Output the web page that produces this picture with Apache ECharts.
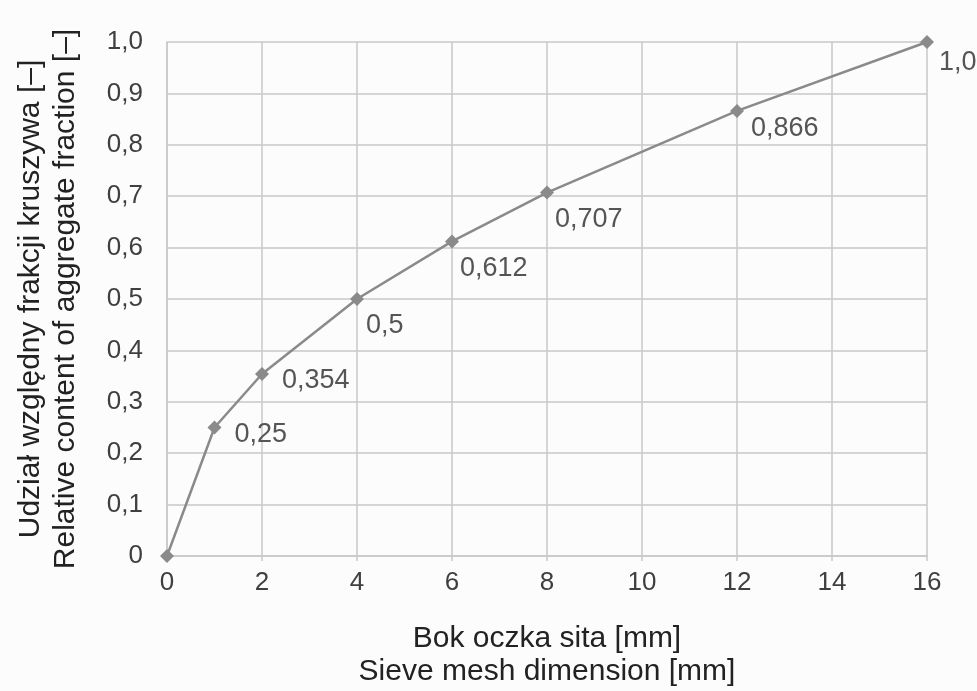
<!DOCTYPE html>
<html>
<head>
<meta charset="utf-8">
<script src="https://cdn.jsdelivr.net/npm/echarts@6/dist/echarts.min.js"></script>
<style>html,body{margin:0;padding:0;background:#fcfcfc}#c{width:977px;height:691px}</style>
</head>
<body>
<div id="c"></div>
<script>
const sieveSizes = [0, 1, 2, 4, 6, 8, 12, 16];
const relativeContent = [0, 0.25, 0.354, 0.5, 0.612, 0.707, 0.866, 1.0];
const pointLabels = ['', '0,25', '0,354', '0,5', '0,612', '0,707', '0,866', '1,0'];
const xAxisTitle = 'Bok oczka sita [mm]\nSieve mesh dimension [mm]';
const yAxisTitle = 'Udział względny frakcji kruszywa [–]\nRelative content of aggregate fraction [–]';

// label offsets (styling only)
const labelOffsets = [[0,0],[13,7],[13,7],[2,27],[1,27],[1,27],[7,18],[5,21]];

const font = '"Liberation Sans", Arial, sans-serif';
const chart = echarts.init(document.getElementById('c'), null, {renderer: 'canvas'});
const data = sieveSizes.map((x, i) => ({
  value: [x, relativeContent[i]],
  label: {show: pointLabels[i] !== '', formatter: pointLabels[i], offset: labelOffsets[i]}
}));
chart.setOption({
  backgroundColor: '#fcfcfc',
  animation: false,
  grid: {left: 167, right: 50, top: 42, bottom: 135, outerBoundsMode: 'none', containLabel: false},
  xAxis: {
    type: 'value', min: 0, max: 16, interval: 2,
    name: xAxisTitle, nameLocation: 'middle', nameGap: 66,
    nameTextStyle: {fontFamily: font, fontSize: 30, color: '#222', lineHeight: 33},
    axisLine: {show: true, lineStyle: {color: '#c8c8c8', width: 1.5}},
    axisTick: {show: true, length: 5, lineStyle: {color: '#c8c8c8', width: 1.5}},
    axisLabel: {fontFamily: font, fontSize: 26, color: '#3f3f3f', margin: 14},
    splitLine: {show: true, lineStyle: {color: '#c8c8c8', width: 1.5}}
  },
  yAxis: {
    type: 'value', min: 0, max: 1, interval: 0.1,
    name: yAxisTitle, nameLocation: 'middle', nameRotate: 90, nameGap: 84,
    nameTextStyle: {fontFamily: font, fontSize: 30, color: '#222', lineHeight: 35},
    axisLine: {show: true, lineStyle: {color: '#c8c8c8', width: 1.5}},
    axisTick: {show: false},
    axisLabel: {fontFamily: font, fontSize: 26, color: '#3f3f3f', margin: 24,
      formatter: v => (v === 0 ? '0' : v.toFixed(1).replace('.', ','))},
    splitLine: {show: true, lineStyle: {color: '#c8c8c8', width: 1.5}}
  },
  series: [{
    type: 'line',
    data: data,
    symbol: 'diamond',
    symbolSize: 14,
    lineStyle: {color: '#8a8a8a', width: 2.5},
    itemStyle: {color: '#8a8a8a'},
    label: {position: 'right', distance: 0, fontFamily: font, fontSize: 27, color: '#555'}
  }]
});
</script>
</body>
</html>
